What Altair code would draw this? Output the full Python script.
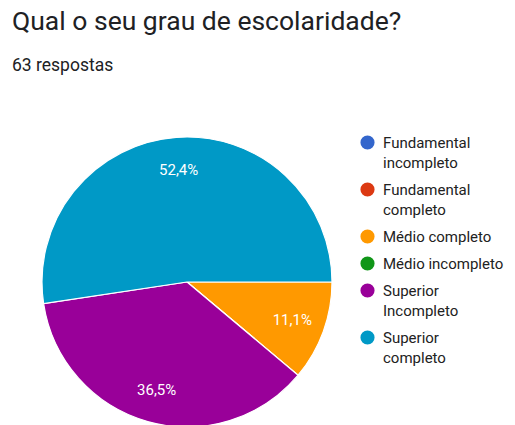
import math
import altair as alt
import pandas as pd

categories = ["Fundamental incompleto", "Fundamental completo", "Médio completo",
              "Médio incompleto", "Superior Incompleto", "Superior completo"]
counts = [0, 0, 7, 0, 23, 33]
colors = ["#3366CC", "#DC3912", "#FF9900", "#109618", "#990099", "#0099C6"]

total = sum(counts)
df = pd.DataFrame({
    "categoria": categories,
    "respostas": counts,
    "ordem": list(range(len(categories))),
    "pct": [f"{c / total * 100:.1f}%".replace(".", ",") for c in counts],
})

theta = alt.Theta("respostas:Q", stack=True,
                  scale=alt.Scale(range=[math.pi / 2, math.pi / 2 + 2 * math.pi]))
color = alt.Color(
    "categoria:N",
    scale=alt.Scale(domain=categories, range=colors),
    sort=categories,
    legend=alt.Legend(
        title=None, orient="none", legendX=352, legendY=-22,
        symbolType="circle", symbolSize=200, symbolStrokeWidth=0,
        labelFont="Roboto", labelFontSize=15, labelColor="#222222",
        labelOffset=8, rowPadding=11, padding=0, labelLimit=200,
        labelExpr="indexof(datum.label, 'Médio') == 0 ? datum.label : split(datum.label, ' ')",
    ),
)

base = alt.Chart(df).encode(theta=theta, order=alt.Order("ordem:Q"))

arcs = base.mark_arc(outerRadius=145, stroke="white", strokeWidth=1.2).encode(color=color)
labels = base.transform_filter("datum.respostas > 0").mark_text(
    radius=112, font="Roboto", fontSize=15, color="white"
).encode(text="pct:N")

chart = alt.layer(arcs, labels).properties(
    width=358, height=250,
    autosize=alt.AutoSizeParams(type="none"),
    padding={"left": 0, "top": 149, "right": 140, "bottom": 20},
    title=alt.TitleParams(
        text="Qual o seu grau de escolaridade?",
        subtitle="63 respostas",
        anchor="start", frame="group", dx=4,
        font="Roboto", fontSize=26.5, fontWeight="normal", color="#202124",
        subtitleFont="Roboto", subtitleFontSize=17.5, subtitleColor="#202124",
        subtitlePadding=22, offset=60,
    ),
).configure_view(stroke=None).configure(
    background="white",
    style={"guide-label": {"lineHeight": 20}},
)

chart.save("out.html", embed_options={"renderer": "svg", "actions": False})
